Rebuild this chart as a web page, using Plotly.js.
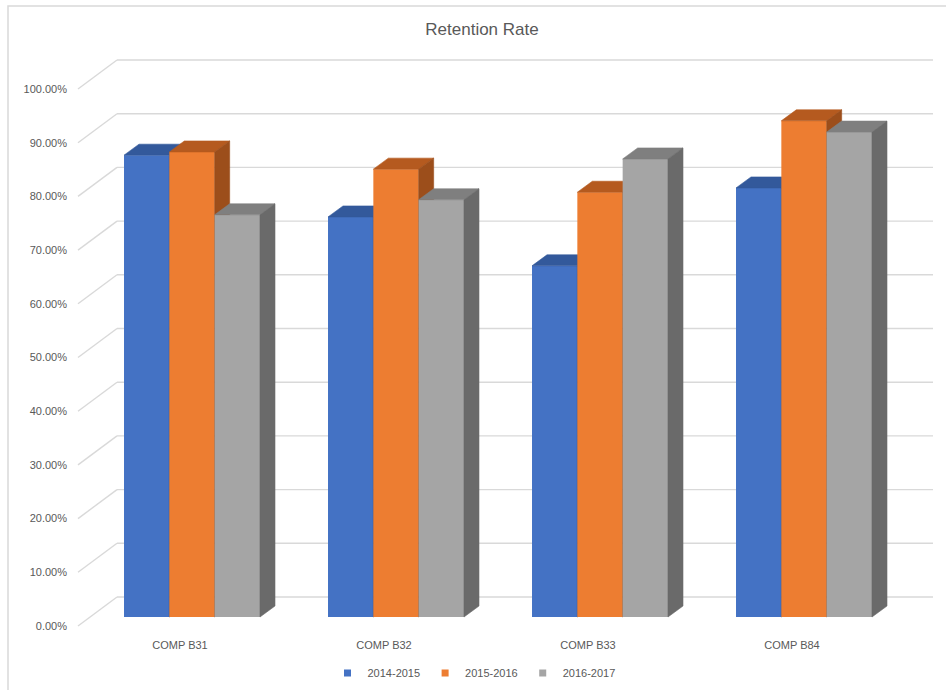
<!DOCTYPE html>
<html><head><meta charset="utf-8">
<script src="https://cdn.plot.ly/plotly-3.0.1.min.js"></script>
<style>html,body{margin:0;padding:0;background:#fff;} #chart{width:946px;height:690px;}</style>
</head><body><div id="chart"></div>
<script>
// ---------- data ----------
const chartTitle = 'Retention Rate';
const categories = ['COMP B31', 'COMP B32', 'COMP B33', 'COMP B84'];
const seriesNames = ['2014-2015', '2015-2016', '2016-2017'];
const values2014_2015 = [0.860, 0.745, 0.654, 0.799];
const values2015_2016 = [0.866, 0.834, 0.791, 0.924];
const values2016_2017 = [0.749, 0.777, 0.853, 0.903];
const yTickVals = [0, 0.1, 0.2, 0.3, 0.4, 0.5, 0.6, 0.7, 0.8, 0.9, 1.0];

// ---------- styles / geometry ----------
const seriesValues = [values2014_2015, values2015_2016, values2016_2017];
const frontColors = ['#4472C4', '#ED7D31', '#A5A5A5'];
const topColors   = ['#33599B', '#B55A1F', '#7F7F7F'];
const sideColors  = ['#2C4E88', '#9C4E1B', '#6A6A6A'];
const textColor = '#595959';
const gridColor = '#D9D9D9';
const FONT = 'Liberation Sans, Arial, sans-serif';

const W = 946, H = 690;
const L = 70, R = 940, T = 45, B = 635;
const catX0 = 180, catStep = 204;      // front (label) plane: x of category 0 and step
const yZero = 626, yUnit = 537;        // front (label) plane: y of 0 and px per 100%
const barShift = {dx: 12, dy: -9};     // bar front plane relative to label plane
const depth = {dx: 15, dy: -11};       // bar depth
const wall = {dx: 39, dy: -29};        // back wall relative to label plane
const gridRightPx = 933;
const barW = 0.2222;                   // bar width in category units

const labelX = [(L - catX0) / catStep, (R - catX0) / catStep];
const labelY = [(yZero - B) / yUnit, (yZero - T) / yUnit];
const barX = [(L - catX0 - barShift.dx) / catStep, (R - catX0 - barShift.dx) / catStep];
const barY = [(yZero + barShift.dy - B) / yUnit, (yZero + barShift.dy - T) / yUnit];
const ddx = depth.dx / catStep, ddy = -depth.dy / yUnit;
const wdx = wall.dx / catStep, wdy = -wall.dy / yUnit;
const frontLeft = -0.5;

const catIdx = categories.map((c, i) => i);
const traces = [];
// legend entries (small square swatches) on the base subplot
seriesNames.forEach((n, s) => {
  traces.push({type: 'scatter', mode: 'markers', name: n, x: [null], y: [null], xaxis: 'x', yaxis: 'y',
    marker: {symbol: 'square', size: 7, color: frontColors[s]}, hoverinfo: 'skip'});
});

seriesValues.forEach((vals, s) => {
  const xa = 'x' + (s + 2), ya = 'y' + (s + 2);
  const off = (s - 1.5) * barW;
  traces.push({
    type: 'bar', name: seriesNames[s], x: catIdx, y: vals, offset: off, width: barW,
    xaxis: xa, yaxis: ya, marker: {color: frontColors[s], line: {width: 0}}, showlegend: false,
    hovertemplate: '%{y:.2%}<extra>' + seriesNames[s] + '</extra>'
  });
  const tx = [], ty = [], sx = [], sy = [];
  vals.forEach((v, c) => {
    const x0 = c + off, x1 = x0 + barW;
    tx.push(x0, x1, x1 + ddx, x0 + ddx, x0, null);
    ty.push(v, v, v + ddy, v + ddy, v, null);
    sx.push(x1, x1, x1 + ddx, x1 + ddx, x1, null);
    sy.push(0, v, v + ddy, ddy, 0, null);
  });
  traces.push({type: 'scatter', mode: 'lines', x: tx, y: ty, fill: 'toself', fillcolor: topColors[s],
    line: {width: 0.6, color: topColors[s]}, xaxis: xa, yaxis: ya, showlegend: false, hoverinfo: 'skip'});
  traces.push({type: 'scatter', mode: 'lines', x: sx, y: sy, fill: 'toself', fillcolor: sideColors[s],
    line: {width: 0.6, color: sideColors[s]}, xaxis: xa, yaxis: ya, showlegend: false, hoverinfo: 'skip'});
});

const shapes = [];
yTickVals.forEach(v => {
  shapes.push({type: 'line', xref: 'x', yref: 'y', x0: frontLeft, y0: v, x1: frontLeft + wdx, y1: v + wdy,
    line: {color: gridColor, width: 1.4}, layer: 'below'});
  shapes.push({type: 'line', xref: 'x', yref: 'y', x0: frontLeft + wdx, y0: v + wdy,
    x1: (gridRightPx - catX0) / catStep, y1: v + wdy, line: {color: gridColor, width: 1.4}, layer: 'below'});
});
shapes.push({type: 'rect', xref: 'paper', yref: 'paper',
  x0: (8 - L) / (R - L), x1: (962 - L) / (R - L), y0: (B - 706) / (B - T), y1: (B - 6) / (B - T),
  line: {color: gridColor, width: 1.5}, fillcolor: 'rgba(0,0,0,0)', layer: 'below'});

const layout = {
  width: W, height: H, margin: {l: L, r: W - R, t: T, b: H - B, autoexpand: false},
  paper_bgcolor: '#fff', plot_bgcolor: 'rgba(0,0,0,0)',
  font: {family: FONT, size: 11, color: textColor},
  title: {text: chartTitle, x: 482 / W, xref: 'container', xanchor: 'center', y: 1 - 29 / H, yref: 'container', yanchor: 'middle',
    font: {family: FONT, size: 17, color: textColor}},
  showlegend: true,
  legend: {orientation: 'h', x: (474 - L) / (R - L), xanchor: 'center', y: (B - 673) / (B - T), yanchor: 'middle',
    font: {family: FONT, size: 11, color: textColor}, traceorder: 'normal', itemwidth: 30},
  xaxis: {range: labelX, tickvals: catIdx, ticktext: categories, showgrid: false, zeroline: false, showline: false,
    ticks: '', tickfont: {size: 11, color: textColor}, fixedrange: true, ticklabelstandoff: 2},
  yaxis: {range: labelY, tickvals: yTickVals, tickformat: '.2%', showgrid: false, zeroline: false, showline: false,
    ticks: '', tickfont: {size: 11, color: textColor}, fixedrange: true, ticklabelstandoff: 2},
  shapes: shapes,
  hovermode: 'closest'
};
[2, 3, 4].forEach(i => {
  layout['xaxis' + i] = {overlaying: 'x', range: barX, visible: false, fixedrange: true};
  layout['yaxis' + i] = {overlaying: 'y', range: barY, visible: false, fixedrange: true};
});

Plotly.newPlot('chart', traces, layout, {displayModeBar: false, responsive: false});
</script>
</body></html>
